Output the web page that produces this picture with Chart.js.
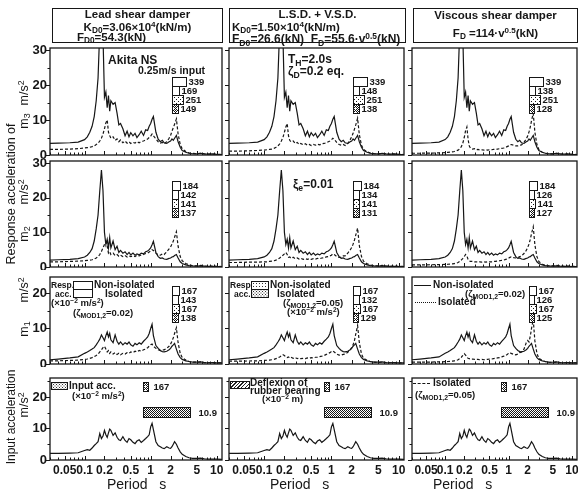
<!DOCTYPE html>
<html>
<head>
<meta charset="utf-8">
<title>Floor response spectra</title>
<script src="https://cdn.jsdelivr.net/npm/chart.js@4.4.1/dist/chart.umd.min.js"></script>
<style>
  html, body { margin: 0; padding: 0; background: #fff; }
  body { position: relative; width: 578px; height: 490px; overflow: hidden; font-family: "Liberation Sans", Arial, sans-serif; color: #161616; }
  canvas { position: absolute; z-index: 1; }
  .t { position: absolute; white-space: nowrap; line-height: 1; z-index: 2; }
  .hd { font-size: 11.5px; font-weight: bold; }
  .lg { font-size: 10px; font-weight: bold; }
  .sm { font-size: 8.5px; font-weight: bold; }
  .an { font-size: 12px; font-weight: bold; }
  .s { font-size: 0.72em; vertical-align: -0.3em; }
  .p { font-size: 0.7em; vertical-align: 0.5em; }
  .rot { transform: translate(-50%, -50%) rotate(-90deg); }
  .box { position: absolute; box-sizing: border-box; border: 1.3px solid #161616; z-index: 2; background: #fff; }
  .dots { background-image: radial-gradient(#333 0.6px, transparent 0.8px); background-size: 3px 3px; }
  .dense { background-image: radial-gradient(#333 0.6px, transparent 0.8px), radial-gradient(#333 0.6px, transparent 0.8px); background-size: 3px 3px, 3px 3px; background-position: 0 0, 1.5px 1.5px; }
  .hatch { background: repeating-linear-gradient(-45deg, #222 0 1px, #fff 1px 2.5px); }
  .ln { position: absolute; height: 0; width: 17px; z-index: 2; }
</style>
</head>
<body>

<!-- column headers -->
<div class="box" style="left:52px;top:8px;width:171px;height:35px"></div>
<div class="t hd" style="left:52px;width:171px;text-align:center;top:9px">Lead shear damper</div>
<div class="t hd" style="left:52px;width:171px;text-align:center;top:21px">K<span class="s">D0</span>=3.06×10<span class="p">4</span>(kN/m)</div>
<div class="t hd" style="left:77px;top:32px">F<span class="s">D0</span>=54.3(kN)</div>

<div class="box" style="left:229px;top:8px;width:177px;height:35px"></div>
<div class="t hd" style="left:229px;width:177px;text-align:center;top:9px">L.S.D. + V.S.D.</div>
<div class="t hd" style="left:232px;top:21px">K<span class="s">D0</span>=1.50×10<span class="p">4</span>(kN/m)</div>
<div class="t hd" style="left:232px;top:32px;font-size:12px">F<span class="s">D0</span>=26.6(kN)&nbsp; F<span class="s">D</span>=55.6·v<span class="p">0.5</span>(kN)</div>

<div class="box" style="left:413px;top:8px;width:165px;height:35px"></div>
<div class="t hd" style="left:413px;width:165px;text-align:center;top:10px">Viscous shear damper</div>
<div class="t hd" style="left:413px;width:165px;text-align:center;top:27px">F<span class="s">D</span> =114·v<span class="p">0.5</span>(kN)</div>

<!-- y axis titles -->
<div class="t rot" style="left:11px;top:194px;font-size:12.5px">Response acceleration of</div>
<div class="t rot" style="left:24px;top:93px;font-size:12.5px">m/s<span class="p">2</span></div>
<div class="t rot" style="left:25px;top:121px;font-size:12.5px">m<span class="s">3</span></div>
<div class="t rot" style="left:24px;top:192px;font-size:12.5px">m/s<span class="p">2</span></div>
<div class="t rot" style="left:25px;top:234px;font-size:12.5px">m<span class="s">2</span></div>
<div class="t rot" style="left:24px;top:290px;font-size:12.5px">m/s<span class="p">2</span></div>
<div class="t rot" style="left:25px;top:329px;font-size:12.5px">m<span class="s">1</span></div>
<div class="t rot" style="left:11px;top:417px;font-size:12px">Input acceleration</div>
<div class="t rot" style="left:24px;top:405px;font-size:12.5px">m/s<span class="p">2</span></div>

<!-- x axis titles -->
<div class="t" style="left:107px;top:477px;font-size:14px">Period&nbsp;&nbsp;&nbsp;s</div>
<div class="t" style="left:270px;top:477px;font-size:14px">Period&nbsp;&nbsp;&nbsp;s</div>
<div class="t" style="left:433px;top:477px;font-size:14px">Period&nbsp;&nbsp;&nbsp;s</div>

<!-- notes inside the panels -->
<div class="t an" style="left:108px;top:54px">Akita NS</div>
<div class="t an" style="left:138px;top:65px;font-size:10.5px">0.25m/s input</div>
<div class="t an" style="left:288px;top:53px">T<span class="s">H</span>=2.0s</div>
<div class="t an" style="left:288px;top:65px">ζ<span class="s">D</span>=0.2 eq.</div>
<div class="t an" style="left:293px;top:178px">ξ<span class="s">e</span>=0.01</div>

<!-- m1 row legends -->
<div class="t sm" style="left:51px;top:281px">Resp.</div>
<div class="t sm" style="left:55px;top:290px">acc.</div>
<div class="box" style="left:73px;top:281px;width:20px;height:9px;border-width:1px"></div>
<div class="box" style="left:73px;top:289px;width:20px;height:9px;border-width:1px"></div>
<div class="t lg" style="left:94px;top:280px">Non-isolated</div>
<div class="t lg" style="left:105px;top:289px">Isolated</div>
<div class="t lg" style="left:51px;top:298px;font-size:9.5px">(×10<span class="p">−2</span> m/s<span class="p">2</span>)</div>
<div class="t lg" style="left:73px;top:308px;font-size:9.5px">(ζ<span class="s">MOD1,2</span>=0.02)</div>

<div class="t sm" style="left:230px;top:281px">Resp.</div>
<div class="t sm" style="left:234px;top:290px">acc.</div>
<div class="box dots" style="left:251px;top:281px;width:18px;height:9px;border-width:1px"></div>
<div class="box dense" style="left:251px;top:289px;width:18px;height:9px;border-width:1px"></div>
<div class="t lg" style="left:270px;top:280px">Non-isolated</div>
<div class="t lg" style="left:277px;top:289px">Isolated</div>
<div class="t lg" style="left:283px;top:298px;font-size:9.5px">(ζ<span class="s">MOD1,2</span>=0.05)</div>
<div class="t lg" style="left:287px;top:307px;font-size:9.5px">(×10<span class="p">−2</span> m/s<span class="p">2</span>)</div>

<div class="ln" style="left:414px;top:285px;border-top:1px solid #161616"></div>
<div class="t lg" style="left:433px;top:280px">Non-isolated</div>
<div class="t lg" style="left:465px;top:289px;font-size:9.5px">(ζ<span class="s">MOD1,2</span>=0.02)</div>
<div class="ln" style="left:415px;top:302px;width:21px;border-top:1.2px dotted #161616"></div>
<div class="t lg" style="left:438px;top:297px">Isolated</div>

<!-- input row legends -->
<div class="box dense" style="left:51px;top:382px;width:17px;height:8px;border-width:1px"></div>
<div class="t lg" style="left:69px;top:381px">Input acc.</div>
<div class="t lg" style="left:72px;top:391px;font-size:9.5px">(×10<span class="p">−2</span> m/s<span class="p">2</span>)</div>

<div class="box hatch" style="left:230px;top:381px;width:20px;height:8px;border-width:1px"></div>
<div class="t lg" style="left:250px;top:378px">Deflexion of</div>
<div class="t lg" style="left:250px;top:386px">rubber bearing</div>
<div class="t lg" style="left:262px;top:394px;font-size:9.5px">(×10<span class="p">−2</span> m)</div>

<div class="ln" style="left:413px;top:383px;border-top:1px dashed #161616"></div>
<div class="t lg" style="left:433px;top:378px">Isolated</div>
<div class="t lg" style="left:415px;top:390px;font-size:9.5px">(ζ<span class="s">MOD1,2</span>=0.05)</div>

<script>
// natural periods (s) where the spectra were read
const periods = [0.03, 0.04, 0.06, 0.08, 0.1, 0.11, 0.12, 0.13, 0.14, 0.15,
  0.16, 0.17, 0.18, 0.19, 0.2, 0.21, 0.22, 0.23, 0.24, 0.25,
  0.27, 0.29, 0.31, 0.33, 0.35, 0.38, 0.41, 0.44, 0.47, 0.5,
  0.54, 0.58, 0.62, 0.67, 0.72, 0.78, 0.84, 0.9, 0.95, 1.0,
  1.05, 1.1, 1.2, 1.3, 1.4, 1.5, 1.6, 1.75, 1.9, 2.0,
  2.1, 2.2, 2.3, 2.45, 2.6, 2.8, 3.0, 3.4, 3.8, 4.3,
  5.0, 5.7, 6.5, 7.5, 8.5, 10, 12];

// m3 floor (m/s2)
const nonIsoM3 = [3.3, 3.4, 3.5, 3.7, 4.4, 5.2, 6.5, 8.2, 11, 15.5,
  22, 36, 40, 34, 16.5, 18, 13.5, 17, 12.5, 15.5,
  14.5, 15, 12, 8.6, 9, 7.5, 5.5, 6.8, 5.2, 6.4,
  5.5, 6.2, 5.0, 5.8, 6.8, 5.6, 7.2, 7.0, 8.2, 9.0,
  10.2, 11.0, 6.5, 4.5, 3.8, 4.2, 3.5, 3.3, 3.8, 4.0,
  4.6, 4.2, 4.8, 5.6, 3.8, 2.2, 1.3, 0.8, 0.5, 0.35,
  0.3, 0.5, 0.3, 0.25, 0.3, 0.2, 0.15];
const isoM3Lead = [1.6, 1.6, 1.7, 1.8, 2.0, 2.1, 2.2, 2.4, 2.6, 3.0,
  3.4, 4.0, 4.8, 6.0, 7.5, 9.2, 10.0, 6.5, 5.6, 4.8,
  5.2, 4.2, 4.6, 3.8, 4.3, 3.5, 4.0, 3.4, 3.8, 3.3,
  3.6, 3.4, 3.8, 3.5, 3.9, 4.0, 4.3, 4.6, 5.0, 5.4,
  6.0, 5.5, 4.6, 3.8, 3.4, 3.6, 3.2, 3.8, 4.8, 5.6,
  6.8, 7.8, 8.8, 10.3, 6.0, 3.0, 1.8, 1.0, 0.6, 0.45,
  0.35, 0.5, 0.3, 0.25, 0.25, 0.2, 0.15];
const isoM3Mixed = [1.1, 1.1, 1.2, 1.3, 1.4, 1.5, 1.6, 1.7, 1.9, 2.2,
  2.6, 3.2, 4.0, 5.0, 6.5, 8.0, 9.0, 5.5, 4.2, 3.8,
  4.0, 3.3, 3.6, 3.0, 3.3, 2.9, 3.2, 2.8, 3.0, 2.7,
  3.0, 2.8, 3.1, 2.9, 3.2, 3.3, 3.5, 3.8, 4.0, 4.3,
  4.8, 4.5, 3.6, 3.0, 2.8, 3.0, 2.7, 3.3, 4.4, 5.2,
  6.2, 7.4, 8.6, 10.5, 5.8, 2.8, 1.6, 0.9, 0.55, 0.4,
  0.3, 0.45, 0.3, 0.2, 0.25, 0.2, 0.15];
const isoM3Visc = [0.5, 0.5, 0.55, 0.6, 0.7, 0.75, 0.8, 0.9, 1.0, 1.2,
  1.4, 1.8, 2.4, 3.4, 5.0, 7.0, 8.0, 4.5, 2.6, 2.0,
  1.7, 1.8, 1.5, 1.6, 1.4, 1.5, 1.4, 1.5, 1.4, 1.5,
  1.5, 1.6, 1.6, 1.7, 1.8, 1.9, 2.0, 2.2, 2.4, 2.6,
  2.9, 3.0, 2.8, 2.6, 2.6, 2.8, 2.9, 3.6, 4.6, 5.4,
  6.6, 8.0, 9.8, 11.9, 6.5, 3.0, 1.6, 0.8, 0.5, 0.35,
  0.3, 0.45, 0.3, 0.2, 0.25, 0.2, 0.15];

// m2 floor (m/s2)
const nonIsoM2 = [2.0, 2.1, 2.2, 2.4, 2.9, 3.4, 4.2, 5.3, 7.5, 11,
  15, 22, 28, 22, 10, 6.5, 8.0, 5.5, 8.5, 5.5,
  7.5, 5.0, 6.0, 4.2, 4.8, 4.0, 4.4, 3.6, 4.2, 3.5,
  4.0, 3.4, 3.8, 3.5, 4.0, 3.8, 4.4, 4.6, 5.0, 5.5,
  6.4, 7.4, 4.2, 3.0, 2.5, 2.6, 2.3, 2.2, 2.5, 2.6,
  2.9, 3.0, 3.3, 3.6, 2.6, 1.5, 1.0, 0.6, 0.4, 0.3,
  0.25, 0.35, 0.25, 0.2, 0.2, 0.15, 0.1];
const isoM2Lead = [1.5, 1.5, 1.6, 1.7, 1.8, 1.9, 2.0, 2.1, 2.3, 2.6,
  3.0, 3.6, 4.5, 5.5, 6.5, 7.3, 6.0, 4.0, 4.4, 3.6,
  4.0, 3.3, 3.6, 3.1, 3.4, 3.0, 3.3, 2.9, 3.2, 3.0,
  3.2, 3.0, 3.4, 3.2, 3.5, 3.6, 3.9, 4.0, 4.3, 4.6,
  5.0, 4.8, 4.0, 3.5, 3.4, 3.8, 3.6, 4.4, 5.2, 5.8,
  6.6, 7.5, 8.6, 10.2, 6.0, 3.0, 1.8, 1.0, 0.6, 0.4,
  0.3, 0.45, 0.3, 0.2, 0.25, 0.2, 0.15];
const isoM2Mixed = [1.3, 1.3, 1.4, 1.4, 1.5, 1.5, 1.6, 1.7, 1.8, 2.0,
  2.2, 2.6, 3.0, 3.4, 3.8, 4.2, 3.6, 2.8, 2.9, 2.5,
  2.8, 2.4, 2.6, 2.3, 2.5, 2.2, 2.4, 2.2, 2.4, 2.2,
  2.4, 2.3, 2.5, 2.4, 2.6, 2.7, 2.9, 3.0, 3.2, 3.4,
  3.8, 3.6, 3.0, 2.8, 2.8, 3.2, 3.2, 4.0, 4.9, 5.6,
  6.6, 7.8, 9.2, 11.2, 6.2, 3.0, 1.7, 0.9, 0.55, 0.4,
  0.3, 0.45, 0.3, 0.2, 0.25, 0.2, 0.15];
const isoM2Visc = [0.6, 0.6, 0.65, 0.7, 0.75, 0.8, 0.85, 0.9, 1.0, 1.1,
  1.3, 1.6, 2.0, 2.5, 3.0, 3.6, 3.2, 2.2, 1.8, 1.6,
  1.6, 1.5, 1.5, 1.4, 1.5, 1.4, 1.5, 1.4, 1.5, 1.5,
  1.5, 1.6, 1.6, 1.7, 1.8, 1.9, 2.0, 2.2, 2.3, 2.5,
  2.8, 2.9, 2.7, 2.6, 2.7, 3.0, 3.2, 3.9, 4.8, 5.6,
  6.6, 8.0, 9.6, 11.6, 6.4, 3.0, 1.6, 0.8, 0.5, 0.35,
  0.3, 0.45, 0.3, 0.2, 0.25, 0.2, 0.15];

// m1 floor (m/s2)
const nonIsoM1 = [1.2, 1.4, 1.7, 2.0, 3.0, 3.4, 3.8, 4.2, 4.6, 5.4,
  6.2, 7.0, 8.2, 7.4, 6.6, 8.0, 9.0, 7.6, 8.6, 6.8,
  6.0, 8.2, 6.4, 5.6, 6.2, 5.4, 6.0, 5.6, 6.2, 5.4,
  5.0, 5.8, 5.4, 6.0, 5.6, 6.4, 7.0, 7.6, 8.6, 10.0,
  11.2, 8.0, 5.2, 4.4, 3.8, 3.5, 3.4, 3.6, 4.0, 4.4,
  5.0, 5.4, 5.8, 4.2, 2.8, 1.8, 1.3, 0.9, 0.7, 0.55,
  0.5, 0.6, 0.4, 0.35, 0.4, 0.3, 0.3];
const isoM1Lead = [0.9, 0.9, 1.0, 1.1, 1.3, 1.4, 1.6, 1.8, 2.1, 2.4,
  2.8, 3.4, 4.0, 4.6, 5.0, 4.2, 3.4, 3.8, 3.0, 3.4,
  2.8, 3.2, 2.7, 3.0, 2.6, 3.0, 2.8, 3.2, 3.0, 3.4,
  3.2, 3.6, 3.4, 3.8, 3.6, 4.0, 4.2, 4.6, 5.0, 5.4,
  5.6, 5.0, 4.4, 4.0, 3.8, 4.0, 4.0, 4.4, 5.0, 5.6,
  6.4, 7.4, 8.6, 10.2, 6.0, 3.0, 1.8, 1.1, 0.7, 0.55,
  0.5, 0.6, 0.4, 0.35, 0.4, 0.3, 0.3];
const isoM1Mixed = [0.8, 0.8, 0.85, 0.9, 1.0, 1.05, 1.1, 1.2, 1.3, 1.5,
  1.7, 2.0, 2.3, 2.6, 2.4, 2.0, 1.8, 2.0, 1.7, 1.9,
  1.6, 1.8, 1.5, 1.7, 1.5, 1.6, 1.5, 1.7, 1.6, 1.8,
  1.7, 1.9, 1.9, 2.1, 2.2, 2.4, 2.7, 3.0, 3.2, 3.5,
  3.7, 3.4, 2.8, 2.5, 2.5, 2.7, 2.8, 3.3, 4.0, 4.6,
  5.4, 6.6, 8.4, 10.8, 6.0, 2.8, 1.6, 1.0, 0.65, 0.5,
  0.45, 0.55, 0.4, 0.35, 0.4, 0.3, 0.3];
const isoM1Visc = [0.5, 0.5, 0.55, 0.6, 0.65, 0.7, 0.75, 0.8, 0.9, 1.0,
  1.2, 1.5, 1.9, 2.4, 2.9, 2.5, 1.9, 1.6, 1.5, 1.4,
  1.4, 1.3, 1.3, 1.3, 1.2, 1.3, 1.2, 1.3, 1.3, 1.4,
  1.4, 1.5, 1.6, 1.7, 1.8, 2.0, 2.2, 2.4, 2.7, 3.0,
  3.2, 3.0, 2.7, 2.6, 2.8, 3.2, 3.4, 4.2, 6.0, 6.6,
  6.2, 7.8, 10.0, 12.5, 6.5, 3.0, 1.6, 1.0, 0.65, 0.5,
  0.45, 0.55, 0.4, 0.35, 0.4, 0.3, 0.3];

// input (Akita NS, 0.25 m/s)
const inputAcc = [2.1, 2.1, 2.2, 2.3, 3.0, 3.3, 3.1, 3.8, 4.6, 5.2,
  5.8, 8.4, 6.8, 7.6, 9.4, 8.0, 7.2, 8.6, 9.8, 9.4,
  7.8, 8.6, 7.2, 6.4, 6.2, 7.4, 6.2, 5.6, 6.8, 6.4,
  5.6, 5.2, 6.0, 6.4, 5.6, 6.2, 6.8, 7.4, 8.0, 10.5,
  11.6, 9.6, 5.8, 4.6, 4.2, 3.8, 3.6, 4.2, 3.8, 3.7,
  4.2, 5.0, 5.8, 5.0, 3.8, 2.6, 1.8, 1.1, 0.7, 0.5,
  0.5, 0.6, 0.4, 0.3, 0.3, 0.25, 0.2];

// axis ticks
const xTickValues = [0.03, 0.04, 0.05, 0.06, 0.07, 0.08, 0.09, 0.1, 0.2, 0.3, 0.4, 0.5, 0.6, 0.7, 0.8, 0.9,
  1, 2, 3, 4, 5, 6, 7, 8, 9, 10];
const xTickLabels = [0.05, 0.1, 0.2, 0.5, 1, 2, 5, 10];
const yTicksTall = [0, 5, 10, 15, 20, 25, 30];
const yTicksShort = [0, 5, 10, 15, 20, 25];

// peak values shown as small bars (x10^-2 m/s2, deflexion x10^-2 m)
const peakM3 = [[339, 169, 251, 149], [339, 148, 251, 138], [339, 138, 251, 128]];
const peakM2 = [[184, 142, 141, 137], [184, 134, 141, 131], [184, 126, 141, 127]];
const peakM1 = [[167, 143, 167, 138], [167, 132, 167, 129], [167, 126, 167, 125]];
const peakInput = [167, 167, 167];
const peakDeflexion = [10.9, 10.9, 10.9];

const ink = '#161616';
Chart.defaults.font.family = '"Liberation Sans", Arial, sans-serif';
Chart.defaults.color = ink;

const colBox = [{ left: 50, right: 222 }, { left: 229, right: 404 }, { left: 412, right: 577 }];
const rowBox = [
  { top: 48, bottom: 155, max: 30.6, ticks: yTicksTall },
  { top: 161, bottom: 267, max: 30.6, ticks: yTicksTall },
  { top: 277, bottom: 364, max: 24.5, ticks: yTicksShort },
  { top: 378, bottom: 460, max: 26, ticks: yTicksShort }
];

const panelSeries = [
  [[nonIsoM3, isoM3Lead], [nonIsoM3, isoM3Mixed], [nonIsoM3, isoM3Visc]],
  [[nonIsoM2, isoM2Lead], [nonIsoM2, isoM2Mixed], [nonIsoM2, isoM2Visc]],
  [[nonIsoM1, isoM1Lead], [nonIsoM1, isoM1Mixed], [nonIsoM1, isoM1Visc]],
  [[inputAcc], [inputAcc], [inputAcc]]
];

const barFills = ['white', 'white', 'dots', 'dense'];
const barTopY = [22.3, 24.8, 22];

function fillFor(ctx, kind) {
  if (kind === 'white') return '#fff';
  const t = document.createElement('canvas');
  t.width = 4; t.height = 4;
  const g = t.getContext('2d');
  g.fillStyle = '#fff'; g.fillRect(0, 0, 4, 4);
  g.fillStyle = ink;
  if (kind === 'dots') { g.fillRect(0, 0, 1, 1); g.fillRect(2, 2, 1, 1); }
  if (kind === 'dense') {
    [[0, 0], [2, 0], [1, 1], [3, 1], [0, 2], [2, 2], [1, 3]].forEach(([a, b]) => g.fillRect(a, b, 1, 1));
  }
  if (kind === 'hatch') {
    for (let i = 0; i < 4; i++) { g.fillRect(i, 3 - i, 1, 1); g.fillRect((i + 2) % 4, 3 - i, 1, 1); }
  }
  return ctx.createPattern(t, 'repeat');
}

function glyphsFor(ri, ci) {
  if (ri < 3) {
    const peaks = [peakM3, peakM2, peakM1][ri][ci];
    return [{ t: 2.08, y: barTopY[ri], items: peaks.map((v, i) => ({ v, k: 0.042, h: 9, fill: barFills[i], gap: 2 })) }];
  }
  return [
    { t: 0.77, y: 24.7, items: [{ v: peakInput[ci], k: 0.028, h: 9, fill: 'dense', gap: 5 }] },
    { t: 0.77, y: 16.8, items: [{ v: peakDeflexion[ci], k: 4.3, h: 10, fill: 'hatch', gap: 8 }] }
  ];
}

function decor(ri, ci) {
  const rb = rowBox[ri];
  const groups = glyphsFor(ri, ci);
  return {
    id: 'panelDecor',
    afterDatasetsDraw(chart) {
      const { ctx, chartArea: a } = chart;
      const xs = chart.scales.x, ys = chart.scales.y;
      ctx.save();
      ctx.strokeStyle = ink;
      ctx.lineWidth = 1;
      ctx.beginPath();
      xTickValues.forEach(v => {
        const px = Math.round(xs.getPixelForValue(v)) + 0.5;
        const len = xTickLabels.includes(v) ? 4 : 2.5;
        ctx.moveTo(px, a.bottom); ctx.lineTo(px, a.bottom - len);
      });
      rb.ticks.forEach(v => {
        if (v > rb.max) return;
        const py = Math.round(ys.getPixelForValue(v)) + 0.5;
        ctx.moveTo(a.left, py); ctx.lineTo(a.left - (v % 10 === 0 ? 4 : 2.5), py);
      });
      ctx.stroke();
      ctx.lineWidth = 1.3;
      ctx.strokeRect(a.left, a.top, a.right - a.left, a.bottom - a.top);

      ctx.font = 'bold 9.5px "Liberation Sans", Arial, sans-serif';
      ctx.textBaseline = 'middle';
      groups.forEach(g => {
        const x0 = Math.round(xs.getPixelForValue(g.t)) + 0.5;
        let y0 = Math.round(ys.getPixelForValue(g.y)) + 0.5;
        g.items.forEach(it => {
          const w = Math.max(2, Math.round(it.v * it.k));
          ctx.fillStyle = fillFor(ctx, it.fill);
          ctx.fillRect(x0, y0, w, it.h);
          ctx.lineWidth = 1;
          ctx.strokeRect(x0, y0, w, it.h);
          ctx.fillStyle = ink;
          ctx.fillText(String(it.v), x0 + w + it.gap, y0 + it.h / 2 + 0.5);
          y0 += it.h;
        });
      });
      ctx.restore();
    }
  };
}

function makePanel(ri, ci) {
  const rb = rowBox[ri], cb = colBox[ci];
  const L = ci === 0 ? 48 : 5, T = 3, R = 2, B = ri === 3 ? 26 : 3;
  const w = cb.right - cb.left + L + R, h = rb.bottom - rb.top + T + B;
  const cv = document.createElement('canvas');
  cv.width = w; cv.height = h;
  cv.style.width = w + 'px'; cv.style.height = h + 'px';
  cv.style.left = (cb.left - L) + 'px';
  cv.style.top = (rb.top - T) + 'px';
  document.body.appendChild(cv);

  new Chart(cv.getContext('2d'), {
    type: 'line',
    data: {
      datasets: panelSeries[ri][ci].map((arr, k) => ({
        data: periods.map((p, i) => ({ x: p, y: arr[i] })),
        borderColor: ink,
        borderWidth: 1.2,
        borderDash: k === 1 ? [3, 2] : [],
        pointRadius: 0,
        tension: 0,
        fill: false
      }))
    },
    options: {
      responsive: false,
      animation: false,
      events: [],
      layout: { padding: { top: T, right: R, left: 0, bottom: 0 } },
      plugins: { legend: { display: false }, tooltip: { enabled: false } },
      scales: {
        x: {
          type: 'logarithmic',
          min: 0.03,
          max: 12,
          afterBuildTicks: s => { s.ticks = xTickValues.map(v => ({ value: v })); },
          afterFit: s => { s.height = B; s.paddingLeft = 0; s.paddingRight = 0; },
          grid: { display: false, drawTicks: false },
          border: { display: false },
          ticks: {
            display: ri === 3,
            autoSkip: false,
            maxRotation: 0,
            padding: 3,
            font: { size: 12, weight: 'bold' },
            callback: v => (xTickLabels.includes(v) ? String(v) : '')
          }
        },
        y: {
          min: 0,
          max: rb.max,
          afterBuildTicks: s => { s.ticks = rb.ticks.filter(v => v <= rb.max).map(v => ({ value: v })); },
          afterFit: s => { s.width = L; s.paddingTop = 0; s.paddingBottom = 0; },
          grid: { display: false, drawTicks: false },
          border: { display: false },
          ticks: {
            display: ci === 0,
            autoSkip: false,
            padding: 3,
            font: { size: 13, weight: 'bold' },
            callback: v => (v % 10 === 0 ? String(v) : '')
          }
        }
      }
    },
    plugins: [decor(ri, ci)]
  });
}

for (let ri = 0; ri < 4; ri++) {
  for (let ci = 0; ci < 3; ci++) makePanel(ri, ci);
}
</script>
</body>
</html>
